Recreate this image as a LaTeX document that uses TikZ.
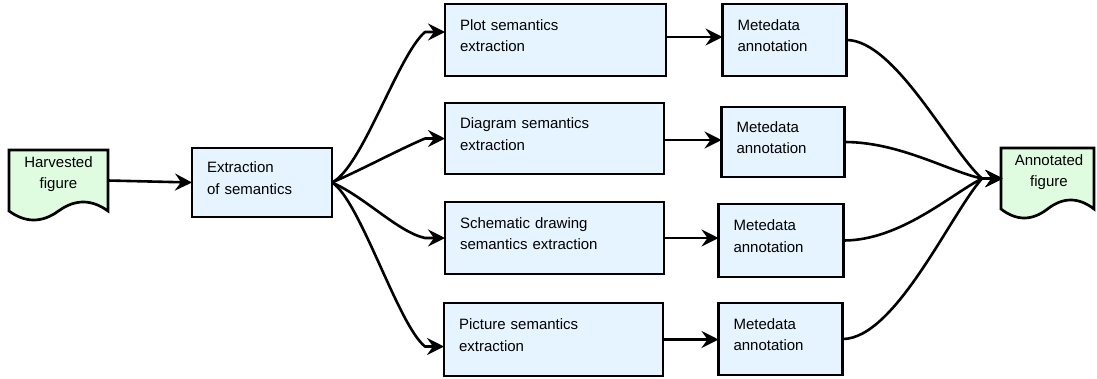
\documentclass[tikz,border=0pt]{standalone}
\usepackage{fontspec}
\setmainfont{Liberation Sans}
\usetikzlibrary{arrows.meta,calc}
\definecolor{boxfill}{HTML}{E6F4FF}
\definecolor{docfill}{HTML}{E0FCE0}
\tikzset{
  lbl/.style={font=\fontsize{15bp}{21.7bp}\selectfont, text height=11bp},
  stepbox/.style={lbl, draw, line width=2.7bp, fill=boxfill, align=left,
    inner xsep=15bp, inner ysep=0pt, outer sep=0pt, text depth=30.7bp},
  docnode/.style={lbl, align=center, inner sep=0pt, outer sep=0pt,
    text width=88bp, text depth=38bp, minimum height=61bp},
  docshape/.style={draw, line width=2.7bp, fill=docfill},
  flow/.style={line width=2.6bp, line join=round,
    -{Stealth[length=17bp,width=17bp,inset=6bp]}}
}
\begin{document}
\begin{tikzpicture}[x=1bp,y=-1bp]
\useasboundingbox (0,0) rectangle (1097,378);

% document-shaped input and output
\draw[docshape] (9,150) -- (108,150) -- (108,211)
  .. controls (91.5,199) and (75,199) .. (58.5,211)
  .. controls (42,223) and (25.5,223) .. (9,211) -- cycle;
\node[docnode, minimum width=99bp] (harv) at (58.5,180.5) {Harvested\\figure};

\draw[docshape] (1001,148) -- (1094,148) -- (1094,209)
  .. controls (1078.5,197) and (1063,197) .. (1047.5,209)
  .. controls (1032,221) and (1016.5,221) .. (1001,209) -- cycle;
\node[docnode, minimum width=93bp] (ann) at (1049,178.5) {Annotated\\figure};

% processing steps
\node[stepbox, text width=110bp, minimum width=140bp, minimum height=69bp] (ext) at (262,182.5) {Extraction\\of semantics};

\node[stepbox, text width=191bp, minimum width=221bp, minimum height=72bp] (plot) at (555.5,40) {Plot semantics\\extraction};
\node[stepbox, text width=189bp, minimum width=219bp, minimum height=71bp] (diag) at (554.5,138.5) {Diagram semantics\\extraction};
\node[stepbox, text width=189bp, minimum width=219bp, minimum height=72bp] (schem) at (554.5,238) {Schematic drawing\\semantics extraction};
\node[stepbox, text width=189bp, minimum width=219bp, minimum height=73bp] (pict) at (553.5,339.5) {Picture semantics\\extraction};

\node[stepbox, text width=94bp, minimum width=123bp, minimum height=72bp] (meta1) at (784.5,40) {Metedata\\annotation};
\node[stepbox, text width=93bp, minimum width=122bp, minimum height=70bp] (meta2) at (783,142) {Metedata\\annotation};
\node[stepbox, text width=95bp, minimum width=124bp, minimum height=73bp] (meta3) at (781,240.5) {Metedata\\annotation};
\node[stepbox, text width=94bp, minimum width=123bp, minimum height=72bp] (meta4) at (780.5,339) {Metedata\\annotation};

% input to extraction
\draw[flow] (harv.east) -- (ext.west);

% fan-out to the four extraction kinds
\draw[flow] (ext.east) .. controls (362,168) and (398,55) .. (425,32) -- ($(plot.west)+(0,-8)$);
\draw[flow] (ext.east) .. controls (365,168) and (398,150) .. (425,138.5) -- (diag.west);
\draw[flow] (ext.east) .. controls (365,197) and (398,232) .. (425,238) -- (schem.west);
\draw[flow] (ext.east) .. controls (360,200) and (398,325) .. (425,346.5) -- ($(pict.west)+(0,7)$);

% extraction to annotation
\draw[flow] ($(plot.east)+(0,-3)$) -- ($(plot.east -| meta1.west)+(0,-3)$);
\draw[flow] ($(diag.east)+(0,1.5)$) -- ($(diag.east -| meta2.west)+(0,1.5)$);
\draw[flow] (schem.east) -- (schem.east -| meta3.west);
\draw[flow] (pict.east) -- (pict.east -| meta4.west);

% fan-in to the annotated figure
\draw[flow] (meta1.east) .. controls (895,40) and (950,150) .. (982,178.5) -- (ann.west);
\draw[flow] (meta2.east) .. controls (900,142) and (950,172) .. (982,178.5) -- (ann.west);
\draw[flow] (meta3.east) .. controls (900,240.5) and (950,195) .. (982,178.5) -- (ann.west);
\draw[flow] (meta4.east) .. controls (895,339) and (950,215) .. (982,178.5) -- (ann.west);
\end{tikzpicture}
\end{document}
